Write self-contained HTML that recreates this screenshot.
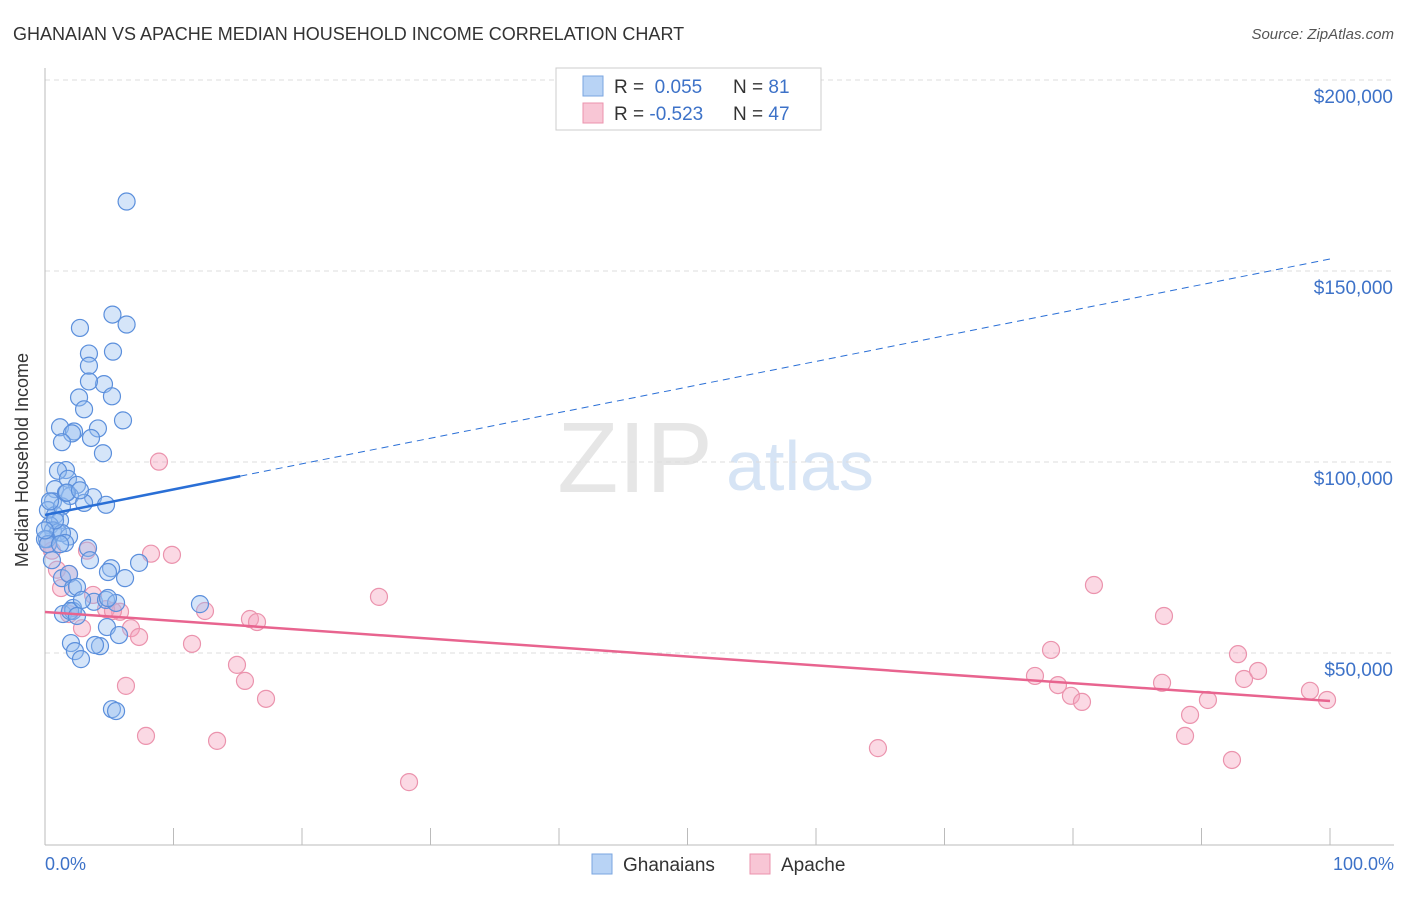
<!DOCTYPE html>
<html><head><meta charset="utf-8"><style>
body{margin:0;background:#fff;font-family:"Liberation Sans",sans-serif;}
svg text{font-family:"Liberation Sans",sans-serif;}
</style></head><body>
<svg width="1406" height="892" xmlns="http://www.w3.org/2000/svg">
<text x="13" y="40" font-size="18" fill="#333">GHANAIAN VS APACHE MEDIAN HOUSEHOLD INCOME CORRELATION CHART</text>
<text x="1394" y="39" font-size="15" fill="#555" font-style="italic" text-anchor="end">Source: ZipAtlas.com</text>
<text x="635" y="492" font-size="100" fill="#e6e6e6" font-family="Liberation Serif" text-anchor="middle">ZIP</text>
<text x="800" y="490" font-size="70" fill="#d6e4f5" text-anchor="middle">atlas</text>
<g id="grid"></g>
<line x1="45" y1="68" x2="45" y2="845" stroke="#bbb"/>
<line x1="45" y1="845" x2="1394" y2="845" stroke="#bbb"/>
<g id="xticks"></g>
<text x="24" y="456" font-size="18" fill="#333" text-anchor="middle" transform="rotate(-90 28 456)">Median Household Income</text>
<text x="45" y="870" font-size="18" fill="#3d72c8">0.0%</text>
<text x="1394" y="870" font-size="18" fill="#3d72c8" text-anchor="end">100.0%</text>
<g id="pts"></g>
<g id="lines"></g>
<g>
<rect x="556" y="68" width="265" height="62" fill="#fff" stroke="#ccc"/>
<rect x="583" y="76" width="20" height="20" fill="#b8d3f5" stroke="#7aa6e0"/>
<rect x="583" y="103" width="20" height="20" fill="#f8c6d5" stroke="#eb93ad"/>
<text x="614" y="93" font-size="19" fill="#333">R = <tspan fill="#3d72c8">&#160;0.055</tspan><tspan x="733">N = </tspan><tspan fill="#3d72c8">81</tspan></text>
<text x="614" y="120" font-size="19" fill="#333">R = <tspan fill="#3d72c8">-0.523</tspan><tspan x="733">N = </tspan><tspan fill="#3d72c8">47</tspan></text>
</g>
<g>
<rect x="592" y="854" width="20" height="20" fill="#b8d3f5" stroke="#7aa6e0"/>
<text x="623" y="871" font-size="19" fill="#333">Ghanaians</text>
<rect x="750" y="854" width="20" height="20" fill="#f8c6d5" stroke="#eb93ad"/>
<text x="781" y="871" font-size="19" fill="#333">Apache</text>
</g>
</svg>
<script>
const yTicks=[50000,100000,150000,200000];
const yTickLabels=["$50,000","$100,000","$150,000","$200,000"];
const blueX=[6.35,5.25,6.35,2.72,5.29,3.42,3.42,4.59,3.42,2.65,5.21,3.04,6.07,1.17,2.26,4.12,2.1,1.32,3.58,4.51,1.63,1.01,0.78,1.79,2.49,1.95,3.74,0.62,3.04,4.75,0.23,0.78,1.32,1.17,0.39,0.62,1.01,1.87,0.16,1.32,1.56,3.35,3.5,7.32,5.14,4.9,6.23,1.32,1.87,2.18,2.49,3.81,4.75,5.53,12.06,2.18,1.4,2.18,4.82,5.76,2.02,2.33,2.8,4.28,3.89,5.21,5.53,1.63,0,0.23,0.78,0.39,1.71,2.72,1.17,0,0.54,1.95,2.49,4.9,2.88];
const blueY=[168200,138600,136000,135100,128900,128400,125200,120400,121100,116900,117200,113800,110900,109100,108000,108800,107500,105200,106300,102300,97900,97700,92900,95600,94000,91100,90800,89700,89300,88800,87400,86100,88400,84700,83400,82100,81600,80500,79800,81400,78800,77500,74300,73600,72200,71200,69600,69600,70700,67000,67300,63400,63900,63100,62800,61800,60200,61000,56800,54700,52600,50500,48400,51800,52100,35300,34800,91900,79800,78500,84700,89700,92000,92600,78500,82100,74300,61000,59700,64400,63900];
const pinkX=[8.87,8.25,9.88,3.27,0.93,0.54,1.25,1.87,3.74,5.84,4.75,5.29,12.45,15.95,16.5,6.69,7.32,2.88,1.87,11.44,25.99,14.94,15.56,6.3,17.2,7.86,13.39,28.33,64.82,81.63,87.08,78.29,77.04,78.83,79.84,80.7,86.93,89.11,88.72,90.5,92.84,93.31,94.4,92.37,98.44,99.77,0.23];
const pinkY=[100100,76000,75700,76800,71800,76800,67000,70700,65200,60800,61500,61000,61000,58900,58100,56500,54200,56500,60200,52400,64700,46900,42700,41400,38000,28300,27000,16200,25100,67800,59700,50800,44000,41600,38800,37200,42200,33800,28300,37700,49700,43200,45300,22000,40100,37700,78500];
const blueTrend=[86130,153150];
const pinkTrend=[60740,37440];
const NS="http://www.w3.org/2000/svg";
const X=v=>45+v*12.85, Y=v=>844-v/261.8;
function mk(t,a,p){const e=document.createElementNS(NS,t);for(const k in a)e.setAttribute(k,a[k]);p.appendChild(e);return e;}
const grid=document.getElementById('grid');
yTicks.forEach((t,i)=>{
 const l=mk('line',{x1:45,x2:1394,y1:Y(t),y2:Y(t),stroke:'#ddd','stroke-dasharray':'5,4'},grid);
 
 
 const tx=mk('text',{x:1393,y:Y(t)+23,'font-size':19,fill:'#3d72c8','text-anchor':'end'},grid);
 tx.textContent=yTickLabels[i];
 
 
});
const xt=document.getElementById('xticks');
for(let i=0;i<=10;i++){const l=mk('line',{x1:X(i*10),x2:X(i*10),y1:828,y2:845,stroke:'#bbb'},xt);
 
 }
const pts=document.getElementById('pts');
pinkX.forEach((x,i)=>{const c=mk('circle',{cx:X(x),cy:Y(pinkY[i]),r:8.5,fill:'rgba(244,160,188,0.4)',stroke:'#eb93ad','stroke-width':1.2},pts);
 
 });
blueX.forEach((x,i)=>{const c=mk('circle',{cx:X(x),cy:Y(blueY[i]),r:8.5,fill:'rgba(150,190,240,0.4)',stroke:'#5b8fdc','stroke-width':1.2},pts);
 
 });
const ln=document.getElementById('lines');
const by=p=>blueTrend[0]+(blueTrend[1]-blueTrend[0])*p/100;
let a=mk('line',{x1:X(0),y1:Y(by(0)),x2:X(15.2),y2:Y(by(15.2)),stroke:'#2a6fd6','stroke-width':2.5},ln);


a=mk('line',{x1:X(15.2),y1:Y(by(15.2)),x2:X(100),y2:Y(by(100)),stroke:'#2a6fd6','stroke-width':1,'stroke-dasharray':'7,5'},ln);


a=mk('line',{x1:X(0),y1:Y(pinkTrend[0]),x2:X(100),y2:Y(pinkTrend[1]),stroke:'#e8648f','stroke-width':2.5},ln);


</script>
</body></html>
